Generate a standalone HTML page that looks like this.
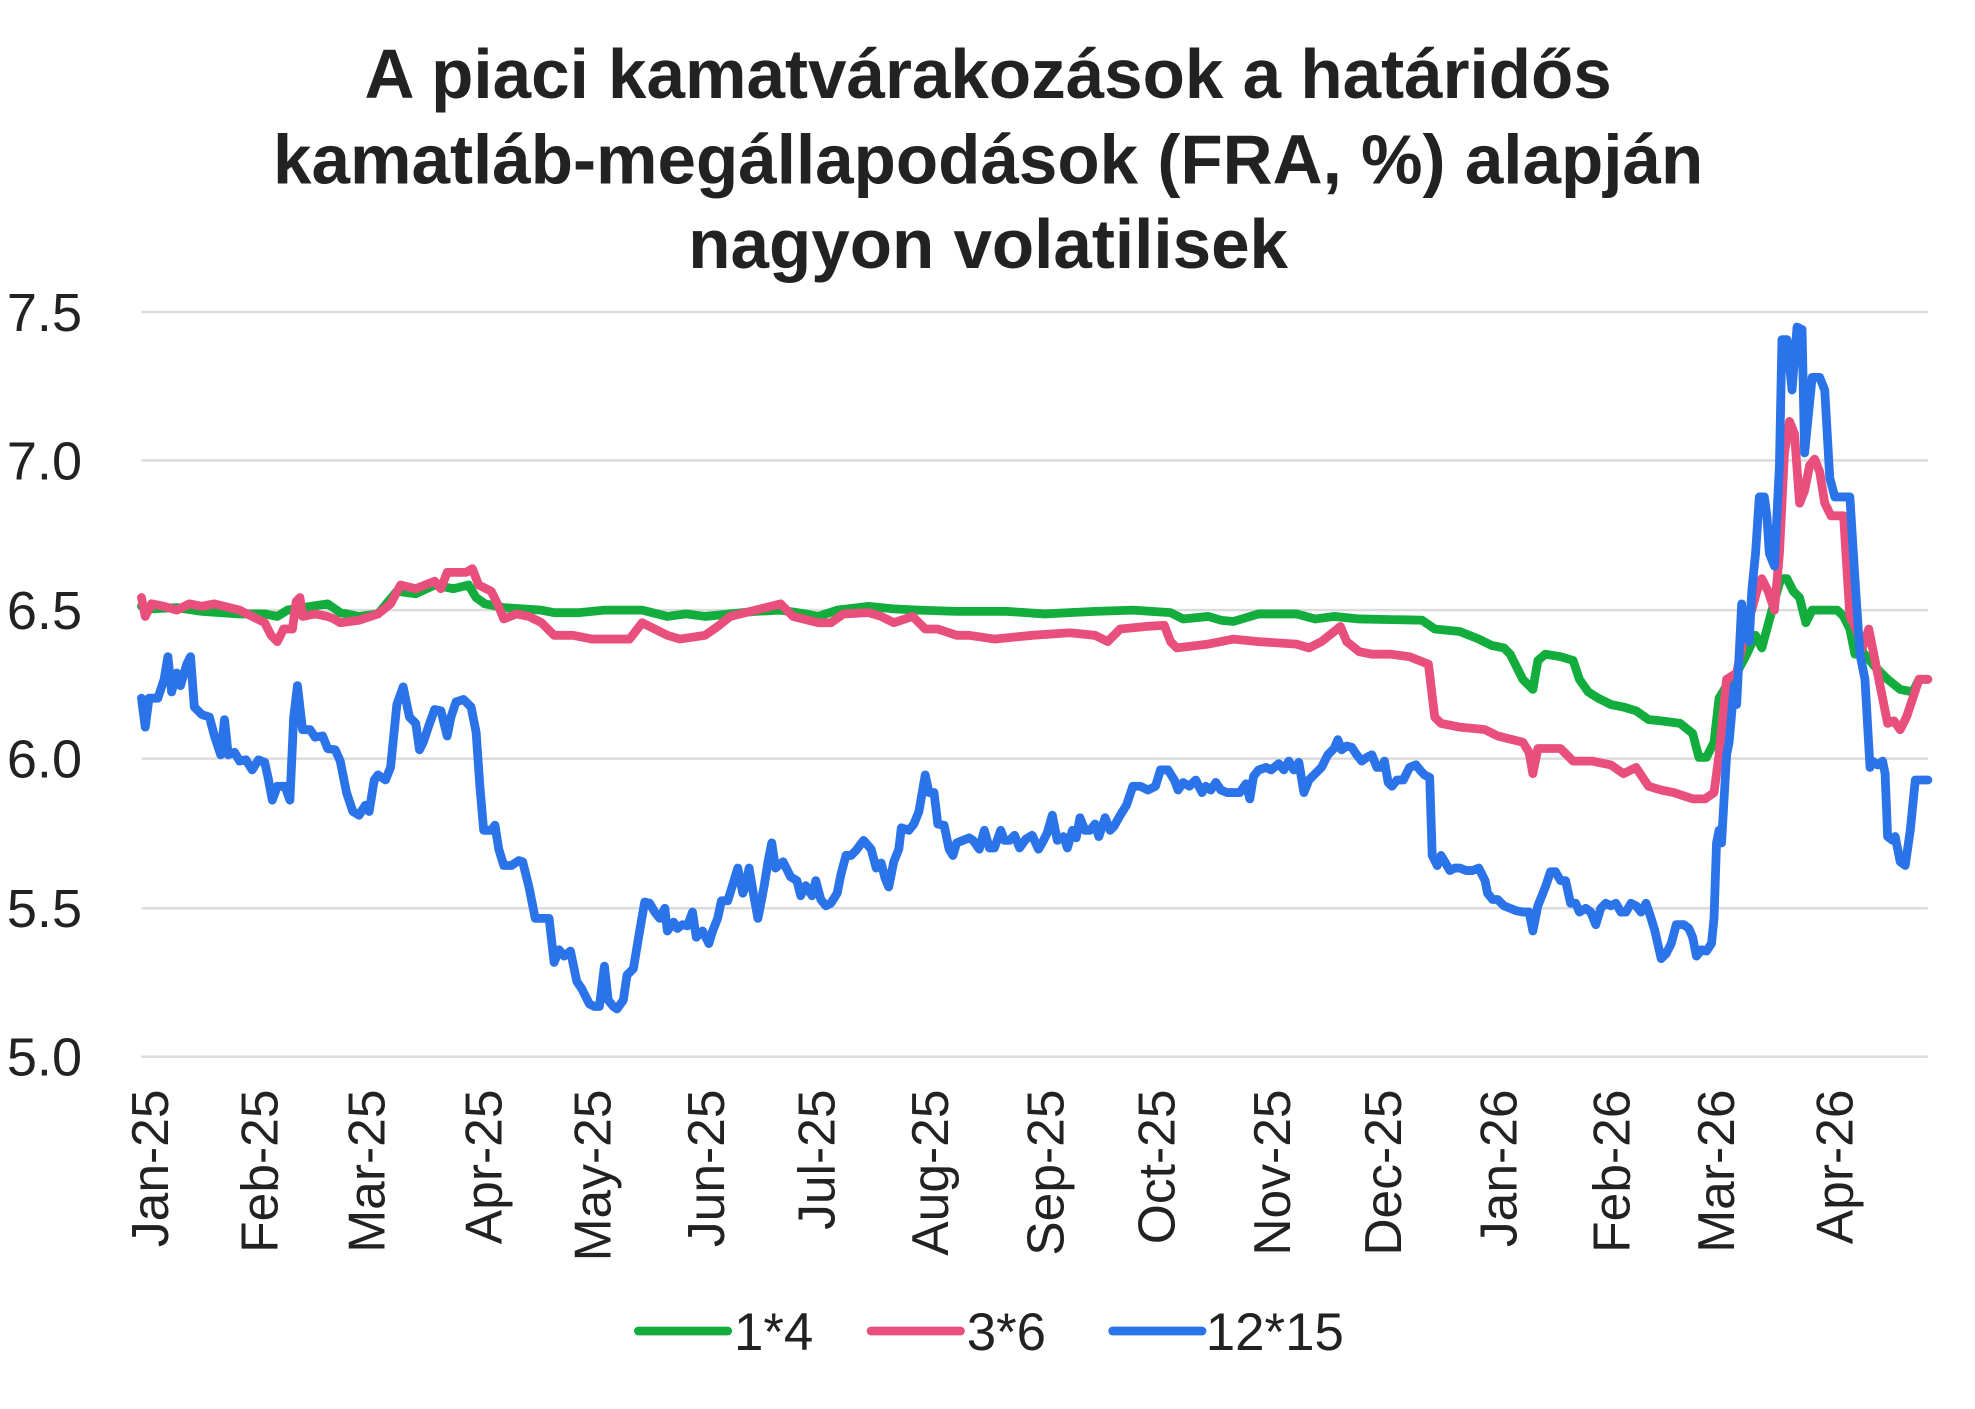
<!DOCTYPE html>
<html><head><meta charset="utf-8"><style>html,body{margin:0;padding:0;background:#fff}svg{display:block}</style></head>
<body>
<svg width="1975" height="1409" viewBox="0 0 1569 1120" xmlns="http://www.w3.org/2000/svg" font-family="Liberation Sans, DejaVu Sans, sans-serif">
<rect width="1569" height="1120" fill="#fff"/>
<g font-weight="bold" font-size="55" fill="#222" text-anchor="middle">
<text x="785" y="78">A piaci kamatvárakozások a határidős</text>
<text x="785" y="146">kamatláb-megállapodások (FRA, %) alapján</text>
<text x="785" y="213">nagyon volatilisek</text>
</g>
<g stroke="#dcdcdc" stroke-width="2">
<line x1="112" x2="1532" y1="248" y2="248"/><line x1="112" x2="1532" y1="366" y2="366"/><line x1="112" x2="1532" y1="485" y2="485"/><line x1="112" x2="1532" y1="603" y2="603"/><line x1="112" x2="1532" y1="722" y2="722"/><line x1="112" x2="1532" y1="840" y2="840"/>
</g>
<g font-size="43" fill="#222">
<text x="5" y="263">7.5</text><text x="5" y="381">7.0</text><text x="5" y="500">6.5</text><text x="5" y="618">6.0</text><text x="5" y="737">5.5</text><text x="5" y="855">5.0</text>
</g>
<g font-size="41" fill="#222" text-anchor="end">
<text transform="translate(133,866) rotate(-90)">Jan-25</text>
<text transform="translate(220,866) rotate(-90)">Feb-25</text>
<text transform="translate(305,866) rotate(-90)">Mar-25</text>
<text transform="translate(398,866) rotate(-90)">Apr-25</text>
<text transform="translate(485,866) rotate(-90)">May-25</text>
<text transform="translate(575,866) rotate(-90)">Jun-25</text>
<text transform="translate(663,866) rotate(-90)">Jul-25</text>
<text transform="translate(753,866) rotate(-90)">Aug-25</text>
<text transform="translate(845,866) rotate(-90)">Sep-25</text>
<text transform="translate(933,866) rotate(-90)">Oct-25</text>
<text transform="translate(1025,866) rotate(-90)">Nov-25</text>
<text transform="translate(1113,866) rotate(-90)">Dec-25</text>
<text transform="translate(1205,866) rotate(-90)">Jan-26</text>
<text transform="translate(1295,866) rotate(-90)">Feb-26</text>
<text transform="translate(1378,866) rotate(-90)">Mar-26</text>
<text transform="translate(1472,866) rotate(-90)">Apr-26</text>
</g>
<g fill="none" stroke-width="7" stroke-linejoin="round" stroke-linecap="round">
<polyline stroke="#12ad3c" points="112,482 120,484 140,483 160,486 190,488 210,488 220,490 228,485 240,483 260,480 270,487 285,490 300,488 315,470 330,472 345,465 360,468 372,465 378,475 385,480 400,483 430,485 440,487 460,487 480,485 510,485 530,490 545,488 560,490 580,488 600,486 620,485 640,488 650,490 665,485 690,482 710,484 730,485 760,486 800,486 830,488 850,487 870,486 900,485 930,487 940,492 960,490 970,493 980,494 1000,488 1030,488 1045,492 1060,490 1080,492 1130,493 1140,500 1160,502 1175,508 1185,513 1195,515 1200,520 1210,540 1218,548 1222,525 1228,520 1240,522 1250,525 1255,540 1262,550 1270,555 1280,560 1290,562 1300,565 1310,572 1320,573 1335,575 1345,583 1350,602 1356,602 1362,590 1366,555 1372,545 1380,535 1388,520 1395,505 1400,515 1410,478 1415,460 1420,460 1425,470 1430,475 1435,495 1440,485 1460,485 1465,490 1470,500 1474,520 1480,518 1490,530 1500,540 1510,548 1520,550 1525,540 1532,540"/>
<polyline stroke="#e84f7c" points="112,475 115,490 120,480 130,482 140,485 150,480 160,482 170,480 190,485 200,490 210,495 215,505 220,510 225,500 232,500 235,478 238,475 240,490 250,488 260,490 265,492 270,495 285,493 300,488 310,480 318,465 330,468 345,462 350,468 355,455 360,455 370,455 375,452 380,465 390,470 395,480 400,492 410,488 420,490 430,495 440,505 455,505 470,508 500,508 510,495 520,500 530,505 540,508 560,505 570,498 580,490 600,485 620,480 630,490 650,495 660,495 670,488 690,487 700,490 710,495 725,490 735,500 745,500 760,505 770,505 790,508 820,505 850,503 870,505 880,510 890,500 910,498 925,497 930,510 935,515 960,512 980,508 1000,510 1030,512 1040,515 1050,510 1065,498 1070,510 1080,518 1090,520 1105,520 1120,522 1135,528 1140,570 1145,575 1160,578 1180,580 1190,585 1210,590 1215,598 1218,615 1222,595 1230,595 1240,595 1250,605 1265,605 1280,608 1290,615 1300,610 1310,625 1320,628 1330,630 1345,635 1355,635 1362,630 1366,600 1372,540 1380,535 1388,495 1392,485 1396,470 1400,460 1405,470 1410,485 1414,440 1418,360 1422,335 1426,345 1430,400 1434,390 1438,370 1442,365 1446,375 1450,400 1455,410 1465,410 1470,490 1475,500 1480,515 1485,500 1490,525 1500,575 1505,573 1510,580 1515,570 1520,555 1525,540 1532,540"/>
<polyline stroke="#2b73e8" points="112,555 115,578 118,555 125,555 130,540 133,522 136,550 140,535 143,545 148,528 151,522 154,562 160,568 166,570 170,585 175,600 178,572 181,600 186,598 190,605 195,604 200,612 205,604 210,606 213,620 216,636 220,625 226,625 230,636 233,570 236,545 240,580 246,580 250,586 256,585 260,595 266,596 270,605 275,630 280,645 285,648 290,640 293,645 297,620 300,616 306,620 310,610 315,560 320,546 325,570 330,575 333,596 336,590 340,578 345,564 350,565 355,585 358,570 362,558 368,556 374,562 378,582 381,625 384,660 390,660 393,656 396,675 400,688 406,688 412,684 415,685 420,705 425,730 432,730 436,730 440,765 444,755 448,760 453,756 458,780 462,786 468,798 472,800 476,800 480,768 483,795 487,800 490,802 495,795 498,775 503,770 508,740 512,717 516,718 520,725 524,730 528,722 530,740 535,733 538,738 542,735 546,736 550,725 553,745 558,740 563,750 566,740 570,730 573,716 578,716 583,700 586,690 590,710 592,705 595,690 598,708 602,730 604,720 607,704 610,685 613,670 616,690 622,685 628,697 633,700 636,712 640,704 645,712 648,700 652,715 656,720 660,718 665,710 668,695 672,680 676,680 680,676 686,668 692,675 696,690 700,686 703,698 706,705 710,685 714,675 716,658 722,660 726,655 730,645 735,616 738,630 742,630 745,655 750,656 754,675 757,680 760,670 765,668 770,666 773,668 778,675 782,660 786,674 790,674 795,660 798,668 802,668 806,664 810,674 815,667 820,664 825,675 828,670 832,662 836,648 840,668 845,665 848,674 852,660 855,666 858,650 862,660 866,660 870,655 873,665 878,650 882,660 885,657 890,648 895,640 900,625 906,625 912,628 918,625 922,612 928,612 933,620 936,628 940,622 945,625 950,620 955,630 958,625 962,628 966,622 970,628 975,630 980,630 985,630 990,623 993,635 996,617 1000,612 1006,610 1010,612 1016,607 1020,612 1024,605 1028,612 1032,606 1036,630 1040,620 1045,615 1050,610 1055,600 1060,595 1063,588 1066,596 1070,593 1074,594 1078,600 1082,605 1086,602 1090,600 1094,610 1098,610 1100,605 1103,622 1106,625 1110,620 1115,620 1120,610 1125,608 1129,613 1132,616 1136,618 1138,680 1142,688 1145,680 1148,685 1152,692 1156,690 1160,690 1165,692 1170,692 1175,690 1180,700 1182,710 1186,715 1190,715 1195,720 1200,722 1205,724 1210,725 1215,725 1218,740 1222,720 1228,705 1232,693 1236,693 1240,700 1244,700 1248,718 1252,718 1255,725 1260,722 1264,725 1268,735 1272,722 1276,718 1280,720 1284,718 1288,725 1292,725 1296,718 1300,720 1304,725 1308,718 1312,730 1315,740 1320,762 1324,758 1328,750 1332,735 1338,735 1342,738 1345,745 1348,760 1352,755 1356,756 1360,750 1362,730 1364,670 1366,660 1368,670 1372,600 1374,590 1378,545 1380,560 1384,480 1387,505 1390,510 1392,470 1395,440 1398,395 1402,395 1404,410 1406,440 1410,450 1414,370 1416,270 1420,270 1424,310 1428,260 1432,262 1434,360 1436,340 1440,300 1446,300 1450,310 1454,380 1458,395 1462,395 1466,395 1470,395 1474,460 1478,520 1482,540 1486,610 1488,605 1492,608 1496,605 1498,615 1500,665 1504,668 1506,665 1510,685 1514,688 1518,660 1522,620 1526,620 1532,620"/>
</g>
<g stroke-width="7" stroke-linecap="round">
<line x1="507" x2="578" y1="1058" y2="1058" stroke="#12ad3c"/>
<line x1="692" x2="763" y1="1058" y2="1058" stroke="#e84f7c"/>
<line x1="884" x2="955" y1="1058" y2="1058" stroke="#2b73e8"/>
</g>
<g font-size="42" fill="#222">
<text x="583" y="1073">1*4</text><text x="768" y="1073">3*6</text><text x="958" y="1073">12*15</text>
</g>
</svg>
</body></html>
